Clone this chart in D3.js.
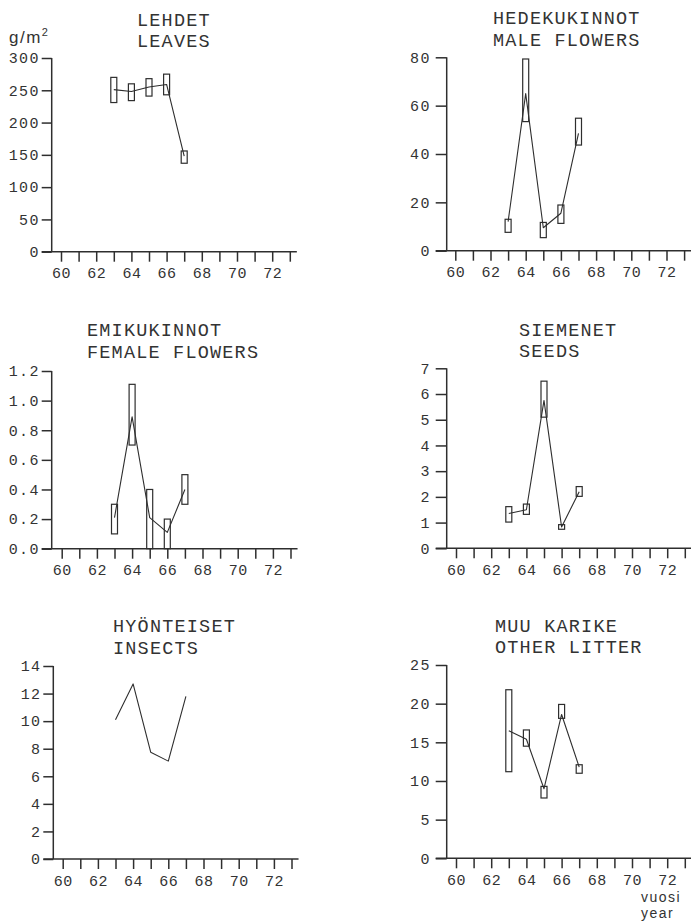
<!DOCTYPE html>
<html>
<head>
<meta charset="utf-8">
<script src="https://cdn.jsdelivr.net/npm/d3@7"></script>
<style>
  html, body { margin: 0; padding: 0; background: #fff; }
  svg { display: block; }
  .mono { font-family: "Liberation Mono", "DejaVu Sans Mono", monospace; fill: #333; }
  .sans { font-family: "Liberation Sans", Arial, sans-serif; fill: #333; }
</style>
</head>
<body>
<svg id="chart" width="691" height="922"></svg>
<script>
// Litter fall, g/m2 per year (1963-1967): mean with low/high range
const years = [63, 64, 65, 66, 67];
const yearTicks = [60, 61, 62, 63, 64, 65, 66, 67, 68, 69, 70, 71, 72, 73];
const yearLabels = [60, 62, 64, 66, 68, 70, 72];

const leavesMean = [251, 248, 255, 259, 148];
const leavesLow  = [231, 234, 241, 243, 137];
const leavesHigh = [270, 260, 268, 275, 156];
const leavesTicks = [0, 50, 100, 150, 200, 250, 300];

const maleMean = [12, 65, 9.5, 15.5, 48.5];
const maleLow  = [7.6, 53.4, 5.4, 11.3, 43.7];
const maleHigh = [13, 79.3, 11.7, 18.9, 54.8];
const maleTicks = [0, 20, 40, 60, 80];

const femaleMean = [0.21, 0.89, 0.21, 0.11, 0.40];
const femaleLow  = [0.10, 0.70, 0.00, 0.00, 0.30];
const femaleHigh = [0.30, 1.11, 0.40, 0.20, 0.50];
const femaleTicks = [0, 0.2, 0.4, 0.6, 0.8, 1.0, 1.2];

const seedsMean = [1.35, 1.5, 5.75, 0.83, 2.2];
const seedsLow  = [1.02, 1.32, 5.1, 0.74, 2.02];
const seedsHigh = [1.62, 1.72, 6.5, 0.92, 2.4];
const seedsTicks = [0, 1, 2, 3, 4, 5, 6, 7];

const insectsMean = [10.1, 12.7, 7.75, 7.1, 11.8];
const insectsTicks = [0, 2, 4, 6, 8, 10, 12, 14];

const otherMean = [16.5, 15.4, 9.0, 18.6, 11.8];
const otherLow  = [11.2, 14.5, 7.8, 18.1, 11.0];
const otherHigh = [21.8, 16.6, 9.3, 19.9, 12.1];
const otherTicks = [0, 5, 10, 15, 20, 25];

const panels = [
  { fi: "LEHDET", en: "LEAVES", mean: leavesMean, low: leavesLow, high: leavesHigh,
    ticks: leavesTicks, fmt: d3.format("d"),
    ax: 51.7, x60: 61, top: 58, bottom: 251.7, tx: 137, t1: 26, t2: 47.3, right: false },
  { fi: "HEDEKUKINNOT", en: "MALE FLOWERS", mean: maleMean, low: maleLow, high: maleHigh,
    ticks: maleTicks, fmt: d3.format("d"),
    ax: 446.7, x60: 455.3, top: 57.3, bottom: 250.7, tx: 493, t1: 24, t2: 46, right: true },
  { fi: "EMIKUKINNOT", en: "FEMALE FLOWERS", mean: femaleMean, low: femaleLow, high: femaleHigh,
    ticks: femaleTicks, fmt: d3.format(".1f"),
    ax: 51.7, x60: 61.7, top: 371, bottom: 548.7, tx: 87, t1: 336, t2: 358, right: false },
  { fi: "SIEMENET", en: "SEEDS", mean: seedsMean, low: seedsLow, high: seedsHigh,
    ticks: seedsTicks, fmt: d3.format("d"),
    ax: 446.7, x60: 456, top: 368.3, bottom: 548.3, tx: 519, t1: 335.7, t2: 357.3, right: true },
  { fi: "HYÖNTEISET", en: "INSECTS", mean: insectsMean, low: null, high: null,
    ticks: insectsTicks, fmt: d3.format("d"),
    ax: 53.3, x60: 62.7, top: 666, bottom: 859, tx: 113, t1: 632.3, t2: 654.3, right: false },
  { fi: "MUU KARIKE", en: "OTHER LITTER", mean: otherMean, low: otherLow, high: otherHigh,
    ticks: otherTicks, fmt: d3.format("d"),
    ax: 446.7, x60: 456, top: 665, bottom: 858.3, tx: 495, t1: 631.7, t2: 653.3, right: true }
];

const ink = "#2e2e2e";
const svg = d3.select("#chart");
svg.append("rect").attr("width", 691).attr("height", 922).attr("fill", "#fff");

const yearStep = 17.6;

panels.forEach(p => {
  const g = svg.append("g");
  const x = d3.scaleLinear().domain([60, 73]).range([p.x60, p.x60 + 13 * yearStep]);
  const y = d3.scaleLinear().domain([0, d3.max(p.ticks)]).range([p.bottom, p.top]);
  const tickLen = p.right ? 11 : 10;

  // title, two lines
  g.append("text").attr("class", "mono").attr("x", p.tx).attr("y", p.t1)
    .style("font-size", "18.5px").style("letter-spacing", "1.2px").text(p.fi);
  g.append("text").attr("class", "mono").attr("x", p.tx).attr("y", p.t2)
    .style("font-size", "18.5px").style("letter-spacing", "1.2px").text(p.en);

  // y axis
  const yAxis = d3.axisLeft(y).tickValues(p.ticks).tickFormat(p.fmt)
    .tickSize(tickLen).tickPadding(p.right ? 5 : 2);
  const ya = g.append("g").attr("transform", `translate(${p.ax},0)`).call(yAxis);
  ya.select(".domain").attr("d", `M0,${p.top}V${p.bottom}`);
  ya.selectAll("line, .domain").attr("stroke", ink).attr("stroke-width", 1.5);
  ya.selectAll("text").attr("class", "mono").attr("fill", "#333")
    .style("font-size", "15px").style("letter-spacing", "1.3px");

  // x axis: ticks every year, labels every other year
  const xEnd = Math.min(x(73.4), 691);
  const xAxis = d3.axisBottom(x).tickValues(yearTicks)
    .tickFormat(d => yearLabels.includes(d) ? d : "")
    .tickSize(10).tickPadding(6);
  const xa = g.append("g").attr("transform", `translate(0,${p.bottom})`).call(xAxis);
  xa.select(".domain").attr("d", `M${p.ax - tickLen},0H${xEnd}`);
  xa.selectAll("line, .domain").attr("stroke", ink).attr("stroke-width", 1.5);
  xa.selectAll("text").attr("class", "mono").attr("fill", "#333")
    .style("font-size", "15px").style("letter-spacing", "0.5px");

  // range boxes
  if (p.low) {
    g.selectAll("rect.box").data(years).join("rect")
      .attr("class", "box")
      .attr("x", d => x(d) - 3)
      .attr("width", 6)
      .attr("y", (d, i) => y(p.high[i]))
      .attr("height", (d, i) => y(p.low[i]) - y(p.high[i]))
      .attr("fill", "none").attr("stroke", ink).attr("stroke-width", 1.2);
  }

  // mean line
  const line = d3.line().x((d, i) => x(years[i])).y(d => y(d));
  g.append("path").attr("d", line(p.mean))
    .attr("fill", "none").attr("stroke", ink).attr("stroke-width", 1.1)
    .attr("stroke-linejoin", "round");
});

// unit label
const unit = svg.append("text").attr("class", "sans").attr("x", 9).attr("y", 43)
  .style("font-size", "17px").style("letter-spacing", "1.5px");
unit.append("tspan").text("g/m");
unit.append("tspan").attr("dy", -7).style("font-size", "11px").text("2");

// year label
svg.append("text").attr("class", "sans").attr("x", 641).attr("y", 902)
  .style("font-size", "14px").style("letter-spacing", "1.5px").text("vuosi");
svg.append("text").attr("class", "sans").attr("x", 641).attr("y", 918)
  .style("font-size", "14px").style("letter-spacing", "1.5px").text("year");
</script>
</body>
</html>
